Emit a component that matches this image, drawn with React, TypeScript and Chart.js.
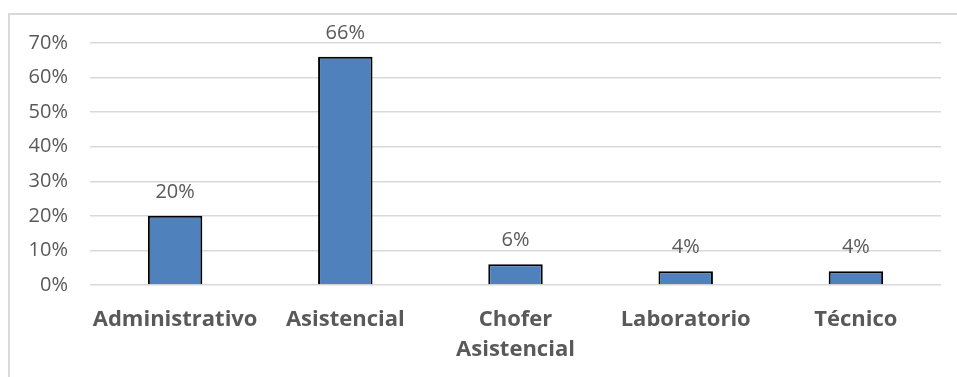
import React, { useEffect, useRef } from "react";
import { Chart, registerables } from "chart.js";

Chart.register(...registerables);

const categories: (string | string[])[] = [
  "Administrativo",
  "Asistencial",
  ["Chofer", "Asistencial"],
  "Laboratorio",
  "Técnico",
];
const values: number[] = [20, 66, 6, 4, 4];
const yTicks = { min: 0, max: 70, step: 10 };

const FONT = "'Open Sans', sans-serif";

const dataLabels = {
  id: "dataLabels",
  afterDatasetsDraw(chart: any) {
    const ctx = chart.ctx;
    const meta = chart.getDatasetMeta(0);
    ctx.save();
    ctx.font = `20px ${FONT}`;
    ctx.fillStyle = "#595959";
    ctx.textAlign = "center";
    ctx.textBaseline = "middle";
    meta.data.forEach((el: any, i: number) => {
      const v = chart.data.datasets[0].data[i];
      ctx.fillText(`${v}%`, el.x, el.y - 24);
    });
    ctx.restore();
  },
};

export default function App() {
  const ref = useRef<HTMLCanvasElement>(null);
  useEffect(() => {
    if (!ref.current) return;
    const chart = new Chart(ref.current, {
      type: "bar",
      data: {
        labels: categories,
        datasets: [
          {
            data: values,
            backgroundColor: "#4F81BD",
            borderColor: "#000000",
            borderWidth: 2,
            barPercentage: 0.32,
            categoryPercentage: 1,
          },
        ],
      },
      options: {
        animation: false,
        responsive: false,
        maintainAspectRatio: false,
        layout: { padding: { top: 43, right: 16, bottom: 0, left: 0 } },
        plugins: {
          legend: { display: false },
          tooltip: { enabled: false },
        },
        scales: {
          x: {
            grid: { display: false, drawTicks: false, tickLength: 0 },
            border: { display: false },
            ticks: {
              color: "#595959",
              font: { family: FONT, size: 22, weight: "bold", lineHeight: "30px" },
              padding: 20,
              maxRotation: 0,
              autoSkip: false,
            },
            afterFit(scale: any) {
              scale.height = 92;
            },
          },
          y: {
            min: yTicks.min,
            max: yTicks.max,
            grid: { color: "#d9d9d9", lineWidth: 1.5, drawTicks: false, tickLength: 0 },
            border: { display: false },
            ticks: {
              stepSize: yTicks.step,
              color: "#595959",
              font: { family: FONT, size: 20 },
              padding: 22,
              callback: (v: any) => `${v}%`,
            },
            afterFit(scale: any) {
              scale.width = 90;
            },
          },
        },
      },
      plugins: [dataLabels],
    });
    return () => chart.destroy();
  }, []);
  return (
    <div style={{ position: "absolute", left: 0, top: 0, width: 957, height: 377, background: "#fff", overflow: "hidden" }}>
      <div
        style={{
          position: "absolute",
          left: 8,
          top: 13,
          width: 1000,
          height: 500,
          borderLeft: "2px solid #d9d9d9",
          borderTop: "2px solid #d9d9d9",
        }}
      />
      <canvas ref={ref} width={957} height={377} style={{ position: "absolute", left: 0, top: 0 }} />
    </div>
  );
}
